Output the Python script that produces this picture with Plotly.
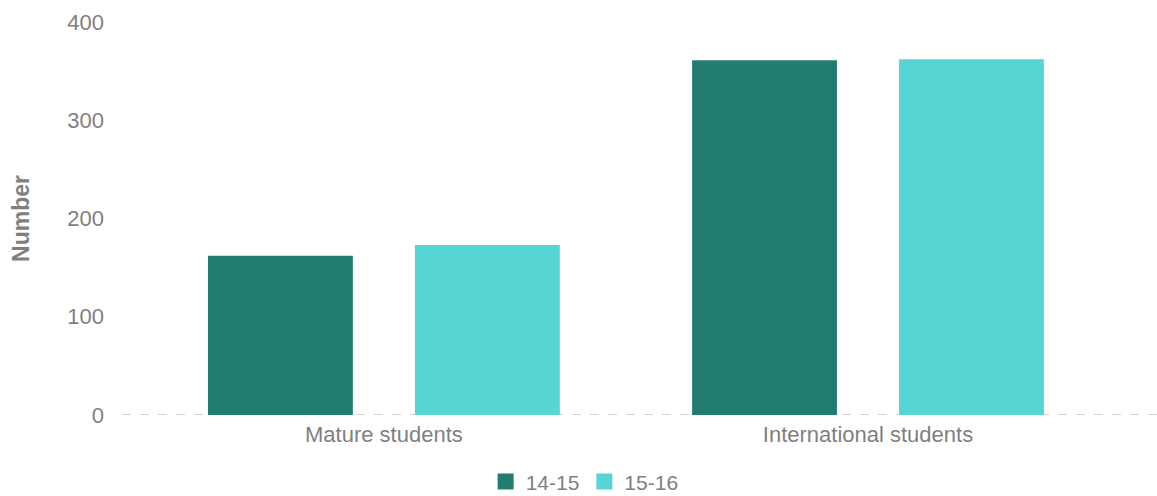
import plotly.graph_objects as go

categories = ["Mature students", "International students"]
series_names = ["14-15", "15-16"]
values_1415 = [162, 361]
values_1516 = [173, 362]
y_ticks = [0, 100, 200, 300, 400]

colors = ["#227C72", "#57D5D4"]
font_family = "Liberation Sans, Arial, sans-serif"
grey = "#7f7f7f"

fig = go.Figure()
for name, vals, col in zip(series_names, [values_1415, values_1516], colors):
    fig.add_trace(go.Bar(x=categories, y=vals, name=name, marker_color=col,
                         marker_line_width=0, hoverinfo="x+y+name", showlegend=False))
    # legend entry with a larger square swatch
    fig.add_trace(go.Scatter(x=[None], y=[None], mode="markers", name=name,
                             marker=dict(symbol="square", size=20, color=col),
                             showlegend=True, hoverinfo="skip"))

fig.add_hline(y=0, line_dash="dash", line_color="#a8a8a8", line_width=1, layer="below")

fig.update_layout(
    width=1157, height=496,
    margin=dict(l=122, r=0, t=22, b=81, autoexpand=False),
    paper_bgcolor="white", plot_bgcolor="white",
    barmode="group", bargap=0.145, bargroupgap=0.3,
    font=dict(family=font_family, color=grey, size=22),
    showlegend=True,
    legend=dict(orientation="h", x=0.447, xanchor="center", y=-0.17, yanchor="middle",
                font=dict(size=21, color=grey), itemsizing="trace", itemwidth=30,
                traceorder="normal", tracegroupgap=0),
    xaxis=dict(range=[-0.541, 1.597], showgrid=False, zeroline=False, showline=False,
               ticks="", tickfont=dict(size=22, color=grey), ticklabelstandoff=4,
               automargin=False),
    yaxis=dict(range=[0, 400], tickvals=y_ticks, showgrid=False, zeroline=False,
               showline=False, ticks="", tickfont=dict(size=22, color=grey),
               ticklabelstandoff=17, automargin=False,
               title=dict(text="<b>Number</b>", font=dict(size=23, color=grey), standoff=31)),
)

fig.write_html("out.html")
